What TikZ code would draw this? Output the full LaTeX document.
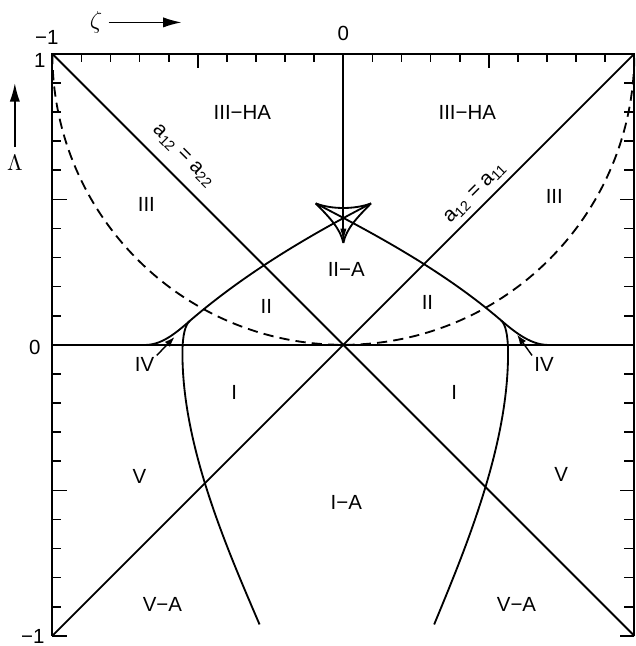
\documentclass[tikz,border=0pt]{standalone}
\usepackage{fontspec}
\setmainfont{Liberation Sans}
\usetikzlibrary{arrows.meta}

\begin{document}
\begin{tikzpicture}[
    x=5cm, y=5cm,
    line/.style={line width=0.9pt},
    tick/.style={line width=0.8pt},
    dashline/.style={line width=0.9pt, dash pattern=on 5pt off 3pt},
    region/.style={font=\fontsize{10}{12}\selectfont, inner sep=1pt},
    num/.style={font=\fontsize{10}{12}\selectfont, inner sep=1pt},
    arrow/.style={-{Latex[length=5pt, width=3.5pt]}, line width=0.7pt},
    axisarrow/.style={-{Latex[length=9pt, width=5pt]}, line width=0.7pt}
]
\useasboundingbox (-1.18,-1.035) rectangle (1.003,1.185);

% frame and ticks
\draw[line] (-1,-1) -- (-1,1) -- (1,1) -- (1,-1);
\draw[line] (-1,0) -- (1,0);
\foreach \i in {1,...,19} {
    \draw[tick] (\i/10-1,1) -- ++(0,-0.028);
}
\foreach \i in {0,...,20} {
    \draw[tick] (-1,\i/10-1) -- ++(0.028,0);
    \draw[tick] (1,\i/10-1) -- ++(-0.034,0);
}
\draw[tick] (-0.5,1) -- ++(0,-0.05);
\draw[tick] (0.5,1) -- ++(0,-0.05);
\foreach \y in {-1,-0.5,0.5} {
    \draw[tick] (-1,\y) -- ++(0.05,0);
    \draw[tick] (1,\y) -- ++(-0.05,0);
}

% axis labels
\node[num] (tm1) at (-1.019,1.057) {−1};
\node[num] (t0) at (0,1.07) {0};
\node[num] (l1) at (-1.043,0.978) {1};
\node[num] (l0) at (-1.06,-0.01) {0};
\node[num, inner sep=0pt] (lm1) at (-1.067,-1.003) {−1};
\node[font=\fontsize{13}{14}\selectfont, inner sep=0pt] (zeta) at (-0.85,1.108) {$\zeta$};
\coordinate (zetaend) at (-0.556,1.106);
\draw[axisarrow] ([xshift=3pt]zeta.east) -- (zeta.east -| zetaend);
\node[font=\fontsize{11}{12}\selectfont, inner sep=0pt] (lam) at (-1.129,0.624) {$\Lambda$};
\coordinate (lamend) at (-1.129,0.899);
\draw[axisarrow] ([yshift=4pt]lam.north) -- (lamend);

% lines a12 = a22 and a12 = a11
\draw[line] (-1,1) -- (1,-1);
\draw[line] (-1,-1) -- (1,1);
\node[region, inner sep=0pt, rotate=-45] (diagl) at (-0.550,0.648) {a\textsubscript{12} = a\textsubscript{22}};
\node[region, inner sep=0pt, rotate=45] (diagr) at (0.454,0.521) {a\textsubscript{12} = a\textsubscript{11}};

% dashed boundary
\draw[dashline] (-1,1) arc[start angle=180, end angle=360, radius=1];

% swallowtail
\coordinate (stl) at (-0.095,0.486);
\coordinate (str) at (0.095,0.486);
\coordinate (tail) at (0,0.35);
\coordinate (topzero) at (0,1);
\draw[line] (stl) .. controls (-0.04,0.465) and (0.04,0.465) .. (str);
\draw[line] (stl) .. controls (-0.05,0.44) and (-0.01,0.40) .. (tail);
\draw[line] (str) .. controls (0.05,0.44) and (0.01,0.40) .. (tail);
\draw[line, -{Latex[length=7pt, width=3pt]}] (topzero) -- (tail);

% transition curves
\coordinate (cuspl) at (-0.528,0.082);
\coordinate (cuspr) at (0.542,0.084);
\draw[line] (-0.677,0) .. controls (-0.62,0) and (-0.565,0.05) .. (cuspl)
    .. controls (-0.328,0.254) and (-0.105,0.382) .. (str);
\draw[line] (0.70,0) .. controls (0.64,0) and (0.58,0.052) .. (cuspr)
    .. controls (0.342,0.256) and (0.105,0.382) .. (stl);
\draw[line] (cuspl) .. controls (-0.543,0.069) and (-0.553,0.035) .. (-0.553,-0.03)
    .. controls (-0.553,-0.35) and (-0.40,-0.70) .. (-0.288,-0.961);
\draw[line] (cuspr) .. controls (0.557,0.071) and (0.566,0.035) .. (0.566,-0.03)
    .. controls (0.566,-0.35) and (0.42,-0.70) .. (0.312,-0.961);

% regions
\node[region] (hal) at (-0.347,0.797) {III−HA};
\node[region] (har) at (0.426,0.797) {III−HA};
\node[region] (iiil) at (-0.677,0.481) {III};
\node[region] (iiir) at (0.725,0.509) {III};
\node[region] (iia) at (0.01,0.258) {II−A};
\node[region] (iil) at (-0.265,0.131) {II};
\node[region] (iir) at (0.289,0.144) {II};
\node[region] (il) at (-0.375,-0.165) {I};
\node[region] (ir) at (0.381,-0.165) {I};
\node[region] (vl) at (-0.701,-0.454) {V};
\node[region] (vr) at (0.749,-0.447) {V};
\node[region] (ia) at (0.01,-0.543) {I−A};
\node[region] (val) at (-0.622,-0.893) {V−A};
\node[region] (var) at (0.595,-0.893) {V−A};
\node[region] (ivl) at (-0.683,-0.069) {IV};
\node[region] (ivr) at (0.69,-0.069) {IV};
\coordinate (ivtl) at (-0.58,0.027);
\coordinate (ivtr) at (0.597,0.035);
\draw[arrow] (ivl.north east) -- (ivtl);
\draw[arrow] (ivr.north west) -- (ivtr);
\end{tikzpicture}
\end{document}
